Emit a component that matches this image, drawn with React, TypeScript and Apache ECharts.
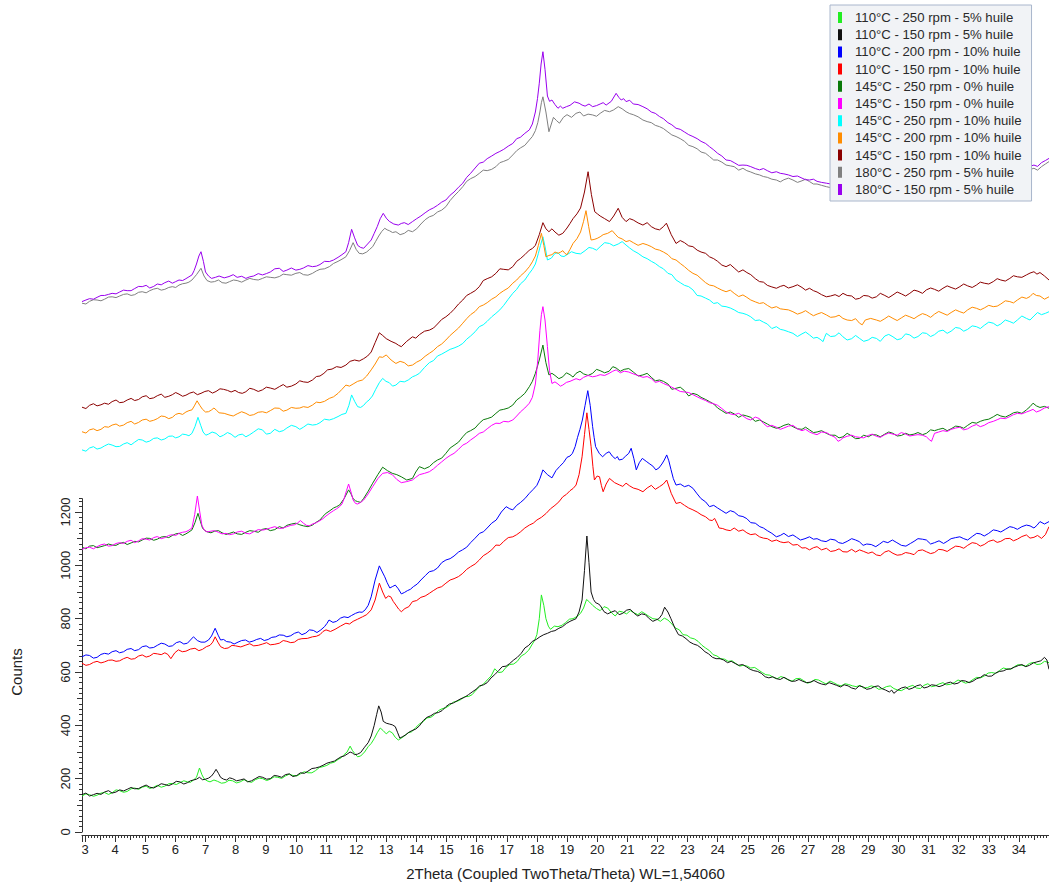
import React, { useEffect, useRef } from "react";
import * as echarts from "echarts";

const seriesNames = [
  "110°C - 250 rpm - 5% huile",
  "110°C - 150 rpm - 5% huile",
  "110°C - 200 rpm - 10% huile",
  "110°C - 150 rpm - 10% huile",
  "145°C - 250 rpm - 0% huile",
  "145°C - 150 rpm - 0% huile",
  "145°C - 250 rpm - 10% huile",
  "145°C - 200 rpm - 10% huile",
  "145°C - 150 rpm - 10% huile",
  "180°C - 250 rpm - 5% huile",
  "180°C - 150 rpm - 5% huile",
];

const seriesColors = [
  "#22ee22", "#111111", "#0000ff", "#ff0000", "#0a7a0a", "#ff00ff",
  "#00ffff", "#ff8c00", "#8b0000", "#808080", "#9900ee",
];

const s110_250_5 = [[2.9,135],[3.03,143],[3.15,140],[3.28,134],[3.4,138],[3.53,146],[3.65,148],[3.78,141],[3.9,147],[4.03,158],[4.15,155],[4.28,149],[4.4,152],[4.53,162],[4.65,165],[4.78,160],[4.9,168],[5.03,172],[5.15,163],[5.28,168],[5.4,175],[5.53,168],[5.65,172],[5.78,181],[5.9,182],[6.03,178],[6.15,185],[6.28,192],[6.4,188],[6.5,186],[6.6,195],[6.7,205],[6.8,240],[6.88,215],[6.95,200],[7.05,192],[7.15,188],[7.28,195],[7.4,190],[7.53,183],[7.65,185],[7.78,194],[7.9,192],[8.03,184],[8.15,188],[8.28,196],[8.4,190],[8.53,186],[8.65,196],[8.78,202],[8.9,200],[9.03,193],[9.15,198],[9.28,207],[9.4,205],[9.53,201],[9.65,210],[9.78,217],[9.9,212],[10.03,210],[10.15,218],[10.28,226],[10.4,222],[10.53,222],[10.65,230],[10.78,242],[10.9,245],[11.03,250],[11.15,258],[11.28,262],[11.4,272],[11.5,278],[11.6,290],[11.7,300],[11.8,322],[11.88,305],[11.95,295],[12.05,282],[12.15,285],[12.28,300],[12.4,320],[12.5,332],[12.6,350],[12.7,372],[12.8,390],[12.9,380],[13.0,368],[13.1,378],[13.2,372],[13.3,355],[13.4,345],[13.5,352],[13.6,360],[13.73,372],[13.85,376],[13.98,392],[14.1,405],[14.23,414],[14.35,428],[14.48,430],[14.6,440],[14.73,455],[14.85,462],[14.98,466],[15.1,475],[15.23,487],[15.35,490],[15.48,497],[15.6,508],[15.73,508],[15.85,515],[15.98,532],[16.1,545],[16.23,555],[16.35,570],[16.48,585],[16.6,612],[16.73,598],[16.85,600],[16.98,618],[17.1,628],[17.23,630],[17.35,640],[17.48,660],[17.6,668],[17.73,682],[17.85,705],[17.93,720],[18.0,740],[18.08,800],[18.15,889],[18.23,850],[18.3,800],[18.38,772],[18.45,760],[18.58,772],[18.7,770],[18.83,775],[18.95,785],[19.08,798],[19.2,800],[19.33,808],[19.45,820],[19.55,840],[19.65,872],[19.75,862],[19.85,850],[19.98,838],[20.1,830],[20.23,845],[20.35,840],[20.48,822],[20.6,810],[20.73,828],[20.85,825],[20.98,818],[21.1,830],[21.23,822],[21.35,815],[21.48,826],[21.6,818],[21.73,808],[21.85,800],[21.98,798],[22.1,790],[22.23,802],[22.35,795],[22.48,780],[22.6,765],[22.73,758],[22.85,740],[22.98,738],[23.1,728],[23.23,724],[23.35,715],[23.48,700],[23.6,690],[23.73,680],[23.85,665],[23.98,660],[24.1,650],[24.23,648],[24.35,640],[24.48,642],[24.6,632],[24.73,622],[24.85,625],[24.98,622],[25.1,615],[25.23,617],[25.35,608],[25.48,598],[25.6,590],[25.73,588],[25.85,580],[25.98,575],[26.1,583],[26.23,578],[26.35,570],[26.48,566],[26.6,575],[26.73,576],[26.85,568],[26.98,558],[27.1,562],[27.23,572],[27.35,570],[27.48,562],[27.6,555],[27.73,566],[27.85,560],[27.98,552],[28.1,548],[28.23,556],[28.35,553],[28.48,548],[28.6,545],[28.73,550],[28.85,540],[28.98,542],[29.1,548],[29.23,544],[29.35,535],[29.48,538],[29.6,545],[29.73,548],[29.85,538],[29.98,532],[30.1,530],[30.23,538],[30.35,545],[30.48,550],[30.6,540],[30.73,538],[30.85,550],[30.98,556],[31.1,545],[31.23,548],[31.35,555],[31.48,560],[31.6,552],[31.73,554],[31.85,560],[31.98,570],[32.1,565],[32.23,558],[32.35,562],[32.48,572],[32.6,580],[32.73,578],[32.85,585],[32.98,596],[33.1,598],[33.23,595],[33.35,605],[33.48,615],[33.6,612],[33.73,610],[33.85,620],[33.98,628],[34.1,625],[34.23,622],[34.35,632],[34.48,636],[34.6,628],[34.73,630],[34.85,640],[35.0,635]];

const s110_150_5 = [[2.9,140],[3.03,146],[3.15,135],[3.28,140],[3.4,145],[3.53,141],[3.65,150],[3.78,155],[3.9,146],[4.03,150],[4.15,158],[4.28,154],[4.4,160],[4.53,167],[4.65,162],[4.78,163],[4.9,170],[5.03,176],[5.15,168],[5.28,165],[5.4,172],[5.53,181],[5.65,178],[5.78,174],[5.9,180],[6.03,190],[6.15,188],[6.28,180],[6.4,185],[6.5,192],[6.6,195],[6.7,198],[6.8,205],[6.9,196],[7.0,198],[7.1,202],[7.2,210],[7.28,222],[7.35,235],[7.43,220],[7.5,205],[7.6,198],[7.7,195],[7.8,203],[7.9,200],[8.03,192],[8.15,195],[8.28,199],[8.4,188],[8.53,192],[8.65,200],[8.78,208],[8.9,205],[9.03,198],[9.15,200],[9.28,212],[9.4,210],[9.53,205],[9.65,215],[9.78,218],[9.9,208],[10.03,212],[10.15,222],[10.28,220],[10.4,228],[10.53,238],[10.65,240],[10.78,244],[10.9,250],[11.03,258],[11.15,262],[11.28,266],[11.4,275],[11.5,282],[11.6,285],[11.7,292],[11.8,300],[11.88,296],[11.95,290],[12.05,292],[12.15,298],[12.28,318],[12.4,335],[12.5,360],[12.6,400],[12.68,440],[12.75,473],[12.83,450],[12.9,415],[13.0,408],[13.1,405],[13.2,402],[13.3,395],[13.38,372],[13.45,352],[13.55,358],[13.65,365],[13.75,374],[13.85,380],[13.98,386],[14.1,398],[14.23,418],[14.35,430],[14.48,436],[14.6,445],[14.73,448],[14.85,455],[14.98,470],[15.1,480],[15.23,484],[15.35,492],[15.48,500],[15.6,505],[15.73,515],[15.85,525],[15.98,535],[16.1,548],[16.23,552],[16.35,560],[16.48,578],[16.6,590],[16.73,605],[16.85,620],[16.98,622],[17.1,632],[17.23,645],[17.35,655],[17.48,670],[17.6,690],[17.73,700],[17.85,715],[17.98,722],[18.1,732],[18.23,740],[18.35,745],[18.48,752],[18.6,755],[18.73,764],[18.85,770],[18.98,782],[19.1,790],[19.2,795],[19.3,800],[19.4,825],[19.5,870],[19.58,980],[19.66,1110],[19.73,1010],[19.8,900],[19.88,872],[19.95,860],[20.03,856],[20.1,850],[20.23,826],[20.35,818],[20.48,825],[20.6,830],[20.73,815],[20.85,820],[20.98,832],[21.1,835],[21.23,820],[21.35,810],[21.48,818],[21.6,815],[21.73,800],[21.85,790],[21.95,795],[22.05,800],[22.15,815],[22.24,843],[22.35,825],[22.45,800],[22.58,765],[22.7,740],[22.83,735],[22.95,725],[23.08,712],[23.2,705],[23.33,700],[23.45,690],[23.58,676],[23.7,668],[23.83,655],[23.95,650],[24.08,650],[24.2,645],[24.33,635],[24.45,640],[24.58,632],[24.7,625],[24.83,628],[24.95,620],[25.08,610],[25.2,605],[25.33,602],[25.45,595],[25.58,582],[25.7,578],[25.83,582],[25.95,575],[26.08,572],[26.2,580],[26.33,572],[26.45,565],[26.58,566],[26.7,572],[26.83,565],[26.95,560],[27.08,562],[27.2,568],[27.33,560],[27.45,555],[27.58,552],[27.7,560],[27.83,555],[27.95,550],[28.08,544],[28.2,552],[28.33,548],[28.45,540],[28.58,536],[28.7,548],[28.83,544],[28.95,535],[29.08,538],[29.2,545],[29.33,548],[29.45,538],[29.58,532],[29.7,525],[29.78,532],[29.85,520],[29.98,532],[30.1,540],[30.23,544],[30.35,535],[30.48,540],[30.6,548],[30.73,552],[30.85,540],[30.98,544],[31.1,552],[31.23,550],[31.35,545],[31.48,550],[31.6,558],[31.73,562],[31.85,555],[31.98,558],[32.1,568],[32.23,566],[32.35,560],[32.48,566],[32.6,575],[32.73,580],[32.85,590],[32.98,584],[33.1,585],[33.23,596],[33.35,602],[33.48,604],[33.6,610],[33.73,612],[33.85,618],[33.98,624],[34.1,628],[34.23,620],[34.35,625],[34.48,634],[34.6,638],[34.73,642],[34.85,655],[34.93,645],[35.0,610]];

const s110_200_10 = [[2.9,657],[3.03,664],[3.15,662],[3.28,652],[3.4,655],[3.53,666],[3.65,670],[3.78,667],[3.9,676],[4.03,680],[4.15,672],[4.28,676],[4.4,685],[4.53,688],[4.65,680],[4.78,684],[4.9,695],[5.03,698],[5.15,690],[5.28,692],[5.4,700],[5.53,708],[5.65,705],[5.78,696],[5.9,698],[6.03,710],[6.15,714],[6.28,705],[6.4,708],[6.5,720],[6.6,732],[6.73,718],[6.85,712],[6.98,712],[7.1,720],[7.2,735],[7.32,764],[7.42,738],[7.5,720],[7.6,722],[7.7,714],[7.83,712],[7.95,705],[8.08,712],[8.2,718],[8.33,720],[8.45,712],[8.58,716],[8.7,722],[8.83,726],[8.95,718],[9.08,722],[9.2,730],[9.33,732],[9.45,739],[9.58,738],[9.7,732],[9.83,736],[9.95,745],[10.08,750],[10.2,740],[10.33,746],[10.45,758],[10.58,756],[10.7,748],[10.83,758],[10.95,770],[11.03,782],[11.1,795],[11.23,786],[11.35,790],[11.48,802],[11.6,807],[11.73,804],[11.85,812],[11.98,820],[12.1,825],[12.2,824],[12.3,833],[12.4,850],[12.5,882],[12.63,945],[12.77,998],[12.87,975],[12.95,957],[13.03,935],[13.12,915],[13.2,920],[13.3,926],[13.4,912],[13.5,893],[13.6,898],[13.7,905],[13.8,910],[13.9,920],[14.03,930],[14.15,945],[14.3,962],[14.43,976],[14.57,980],[14.7,990],[14.84,1010],[14.98,1020],[15.12,1025],[15.25,1035],[15.4,1050],[15.53,1058],[15.67,1068],[15.8,1085],[15.95,1102],[16.1,1120],[16.23,1126],[16.35,1140],[16.5,1158],[16.65,1170],[16.82,1200],[16.98,1220],[17.1,1212],[17.2,1208],[17.33,1225],[17.45,1235],[17.6,1250],[17.75,1270],[17.88,1285],[18.0,1300],[18.1,1325],[18.2,1358],[18.35,1340],[18.5,1328],[18.63,1355],[18.75,1370],[18.88,1385],[19.0,1405],[19.1,1410],[19.18,1420],[19.27,1445],[19.35,1480],[19.43,1510],[19.51,1545],[19.6,1600],[19.69,1655],[19.77,1600],[19.85,1520],[19.9,1480],[19.95,1445],[20.07,1420],[20.18,1407],[20.3,1420],[20.4,1426],[20.5,1410],[20.6,1400],[20.67,1408],[20.73,1395],[20.84,1398],[20.95,1410],[21.05,1420],[21.13,1439],[21.22,1400],[21.3,1358],[21.4,1385],[21.5,1401],[21.63,1390],[21.75,1380],[21.85,1372],[21.95,1358],[22.05,1365],[22.15,1380],[22.23,1395],[22.31,1414],[22.38,1392],[22.45,1360],[22.53,1325],[22.62,1301],[22.76,1305],[22.9,1295],[23.04,1300],[23.18,1289],[23.32,1268],[23.45,1250],[23.6,1238],[23.73,1220],[23.87,1225],[24.0,1215],[24.14,1205],[24.28,1195],[24.42,1205],[24.55,1200],[24.7,1186],[24.84,1183],[24.97,1175],[25.1,1160],[25.25,1158],[25.4,1145],[25.52,1140],[25.65,1130],[25.8,1120],[25.95,1107],[26.08,1112],[26.2,1120],[26.35,1108],[26.5,1114],[26.62,1105],[26.75,1095],[26.9,1100],[27.05,1107],[27.18,1098],[27.3,1100],[27.45,1092],[27.6,1089],[27.75,1098],[27.9,1095],[28.02,1085],[28.15,1082],[28.3,1090],[28.45,1100],[28.58,1095],[28.7,1089],[28.83,1075],[28.95,1080],[29.1,1078],[29.25,1070],[29.38,1080],[29.5,1090],[29.65,1085],[29.8,1095],[29.95,1085],[30.1,1075],[30.25,1072],[30.4,1082],[30.52,1090],[30.65,1100],[30.8,1098],[30.93,1095],[31.07,1080],[31.2,1085],[31.35,1092],[31.5,1082],[31.62,1090],[31.75,1100],[31.9,1104],[32.04,1107],[32.17,1100],[32.3,1095],[32.45,1108],[32.6,1120],[32.72,1118],[32.85,1110],[33.0,1120],[33.15,1133],[33.28,1130],[33.4,1125],[33.55,1135],[33.7,1145],[33.82,1142],[33.95,1135],[34.1,1145],[34.25,1151],[34.37,1148],[34.5,1140],[34.6,1150],[34.7,1164],[34.85,1155],[35.0,1164]];

const s110_150_10 = [[2.9,633],[3.03,625],[3.15,628],[3.28,636],[3.4,640],[3.53,634],[3.65,638],[3.78,644],[3.9,645],[4.03,640],[4.15,642],[4.28,650],[4.4,655],[4.53,648],[4.65,650],[4.78,660],[4.9,664],[5.03,656],[5.15,660],[5.28,670],[5.4,668],[5.53,665],[5.65,672],[5.75,666],[5.85,650],[5.98,672],[6.1,683],[6.23,676],[6.35,678],[6.5,686],[6.65,689],[6.78,680],[6.9,685],[7.03,695],[7.15,700],[7.24,712],[7.32,732],[7.41,712],[7.5,695],[7.63,688],[7.75,690],[7.88,700],[8.0,698],[8.17,694],[8.34,701],[8.47,706],[8.6,698],[8.75,700],[8.9,705],[9.03,710],[9.15,702],[9.3,704],[9.45,708],[9.58,718],[9.7,715],[9.83,710],[9.95,712],[10.08,722],[10.2,725],[10.38,726],[10.55,732],[10.68,734],[10.8,740],[10.9,752],[11.0,758],[11.15,752],[11.3,760],[11.48,772],[11.66,783],[11.78,780],[11.9,790],[12.05,798],[12.21,807],[12.35,815],[12.5,833],[12.63,870],[12.77,933],[12.88,900],[12.98,876],[13.07,885],[13.15,882],[13.23,865],[13.32,851],[13.41,836],[13.5,826],[13.62,838],[13.75,845],[13.87,864],[14.01,868],[14.15,880],[14.29,885],[14.43,895],[14.56,905],[14.7,915],[14.84,920],[14.98,933],[15.12,945],[15.25,950],[15.4,958],[15.54,970],[15.67,985],[15.8,995],[15.95,1005],[16.09,1020],[16.22,1036],[16.35,1045],[16.5,1058],[16.64,1076],[16.77,1075],[16.9,1090],[17.05,1104],[17.2,1107],[17.33,1115],[17.45,1125],[17.6,1140],[17.75,1151],[17.88,1158],[18.0,1170],[18.15,1180],[18.31,1195],[18.45,1212],[18.6,1225],[18.73,1238],[18.86,1257],[18.98,1266],[19.1,1280],[19.2,1288],[19.3,1301],[19.4,1340],[19.5,1407],[19.58,1490],[19.66,1572],[19.73,1510],[19.8,1445],[19.86,1370],[19.91,1320],[20.0,1335],[20.08,1332],[20.14,1300],[20.2,1276],[20.3,1305],[20.41,1326],[20.58,1310],[20.75,1301],[20.85,1296],[20.96,1308],[21.08,1298],[21.2,1290],[21.36,1285],[21.52,1276],[21.66,1290],[21.8,1300],[21.93,1285],[22.07,1295],[22.2,1305],[22.31,1320],[22.46,1270],[22.62,1232],[22.76,1236],[22.9,1225],[23.04,1215],[23.18,1208],[23.32,1200],[23.45,1190],[23.6,1182],[23.73,1170],[23.82,1168],[23.9,1176],[23.98,1158],[24.05,1140],[24.17,1138],[24.28,1133],[24.42,1130],[24.55,1140],[24.7,1128],[24.84,1133],[24.97,1122],[25.1,1115],[25.25,1118],[25.39,1107],[25.52,1102],[25.65,1100],[25.8,1090],[25.95,1095],[26.08,1088],[26.2,1085],[26.35,1088],[26.5,1076],[26.65,1078],[26.8,1065],[26.92,1066],[27.05,1058],[27.18,1066],[27.3,1070],[27.45,1058],[27.61,1064],[27.75,1052],[27.9,1055],[28.03,1062],[28.16,1051],[28.3,1050],[28.45,1060],[28.58,1050],[28.71,1058],[28.85,1052],[29.0,1045],[29.13,1050],[29.27,1039],[29.4,1036],[29.55,1050],[29.68,1055],[29.82,1045],[29.96,1038],[30.1,1040],[30.24,1048],[30.38,1045],[30.52,1040],[30.65,1055],[30.8,1058],[30.93,1051],[31.07,1044],[31.2,1048],[31.34,1060],[31.48,1058],[31.62,1052],[31.75,1062],[31.9,1072],[32.04,1070],[32.17,1064],[32.3,1075],[32.45,1085],[32.59,1082],[32.72,1072],[32.85,1078],[33.0,1090],[33.15,1095],[33.28,1086],[33.4,1090],[33.55,1100],[33.7,1101],[33.82,1092],[33.95,1098],[34.1,1108],[34.25,1114],[34.37,1102],[34.5,1105],[34.62,1112],[34.75,1101],[34.88,1115],[35.0,1145]];

const s145_250_0 = [[2.9,1068],[3.03,1062],[3.15,1072],[3.28,1074],[3.4,1066],[3.53,1070],[3.65,1074],[3.78,1080],[3.9,1076],[4.03,1075],[4.15,1082],[4.28,1086],[4.4,1078],[4.53,1084],[4.65,1090],[4.78,1088],[4.9,1095],[5.03,1102],[5.15,1101],[5.28,1094],[5.4,1098],[5.53,1106],[5.65,1108],[5.78,1104],[5.9,1112],[6.01,1118],[6.12,1120],[6.24,1112],[6.35,1118],[6.45,1125],[6.55,1133],[6.65,1160],[6.75,1195],[6.83,1165],[6.9,1140],[6.98,1130],[7.05,1126],[7.18,1122],[7.3,1128],[7.43,1130],[7.55,1122],[7.68,1116],[7.8,1120],[7.93,1125],[8.05,1118],[8.2,1116],[8.34,1124],[8.47,1130],[8.6,1128],[8.75,1124],[8.89,1135],[9.02,1138],[9.15,1130],[9.3,1134],[9.45,1145],[9.58,1140],[9.7,1150],[9.85,1155],[10.0,1158],[10.13,1152],[10.25,1148],[10.4,1145],[10.55,1151],[10.68,1162],[10.8,1170],[10.9,1184],[11.0,1195],[11.13,1205],[11.25,1215],[11.35,1220],[11.45,1226],[11.6,1250],[11.75,1283],[11.83,1268],[11.9,1250],[11.98,1242],[12.05,1239],[12.15,1236],[12.25,1251],[12.4,1278],[12.55,1308],[12.72,1340],[12.88,1368],[13.04,1355],[13.2,1345],[13.35,1340],[13.5,1332],[13.68,1320],[13.87,1326],[13.98,1350],[14.1,1370],[14.27,1362],[14.43,1370],[14.57,1385],[14.7,1395],[14.84,1402],[14.98,1420],[15.12,1440],[15.25,1450],[15.4,1462],[15.54,1482],[15.67,1498],[15.8,1505],[15.95,1515],[16.09,1533],[16.22,1546],[16.35,1550],[16.5,1556],[16.64,1570],[16.77,1582],[16.9,1585],[17.05,1590],[17.2,1601],[17.33,1620],[17.45,1630],[17.6,1645],[17.75,1670],[17.85,1690],[17.95,1720],[18.08,1770],[18.2,1826],[18.3,1760],[18.4,1714],[18.5,1720],[18.6,1712],[18.73,1700],[18.86,1707],[18.98,1722],[19.1,1715],[19.2,1706],[19.3,1720],[19.43,1728],[19.55,1718],[19.7,1712],[19.85,1720],[19.98,1735],[20.1,1730],[20.25,1722],[20.4,1728],[20.52,1745],[20.63,1740],[20.77,1728],[20.9,1735],[21.05,1738],[21.2,1725],[21.36,1710],[21.52,1714],[21.66,1720],[21.8,1705],[21.93,1692],[22.07,1695],[22.2,1690],[22.35,1680],[22.48,1660],[22.62,1664],[22.76,1668],[22.9,1655],[23.04,1635],[23.18,1645],[23.32,1640],[23.45,1630],[23.6,1622],[23.73,1614],[23.87,1605],[24.0,1590],[24.14,1580],[24.28,1570],[24.42,1575],[24.55,1568],[24.7,1555],[24.84,1564],[24.97,1560],[25.1,1555],[25.25,1540],[25.39,1545],[25.52,1538],[25.65,1530],[25.8,1520],[25.95,1514],[26.08,1518],[26.2,1525],[26.35,1530],[26.5,1520],[26.65,1512],[26.8,1510],[26.92,1518],[27.05,1508],[27.18,1498],[27.3,1500],[27.45,1505],[27.61,1495],[27.75,1488],[27.9,1488],[28.03,1478],[28.16,1482],[28.3,1495],[28.45,1485],[28.58,1475],[28.71,1476],[28.85,1488],[29.0,1482],[29.13,1490],[29.27,1489],[29.4,1482],[29.55,1492],[29.68,1500],[29.82,1495],[29.96,1485],[30.1,1487],[30.24,1495],[30.38,1489],[30.52,1492],[30.65,1498],[30.8,1490],[30.93,1495],[31.07,1508],[31.2,1505],[31.34,1510],[31.48,1514],[31.62,1505],[31.75,1512],[31.9,1522],[32.04,1520],[32.17,1514],[32.3,1525],[32.45,1536],[32.59,1533],[32.72,1540],[32.85,1545],[33.0,1548],[33.15,1557],[33.28,1566],[33.4,1560],[33.55,1556],[33.7,1564],[33.82,1572],[33.95,1575],[34.1,1570],[34.25,1583],[34.37,1595],[34.47,1608],[34.58,1598],[34.7,1592],[34.85,1596],[35.0,1589]];

const s145_150_0 = [[2.9,1060],[3.03,1066],[3.15,1068],[3.28,1062],[3.4,1070],[3.53,1077],[3.65,1080],[3.78,1072],[3.9,1074],[4.03,1082],[4.15,1085],[4.28,1082],[4.4,1090],[4.53,1094],[4.65,1085],[4.78,1092],[4.9,1100],[5.03,1098],[5.15,1095],[5.28,1104],[5.4,1108],[5.53,1100],[5.65,1104],[5.78,1112],[5.9,1115],[6.01,1112],[6.12,1120],[6.24,1124],[6.35,1126],[6.45,1132],[6.55,1140],[6.64,1190],[6.73,1260],[6.81,1200],[6.88,1150],[6.96,1132],[7.05,1125],[7.18,1128],[7.3,1130],[7.43,1124],[7.55,1118],[7.68,1120],[7.8,1115],[7.93,1118],[8.05,1125],[8.2,1128],[8.34,1120],[8.47,1118],[8.6,1126],[8.75,1134],[8.89,1132],[9.02,1135],[9.15,1140],[9.3,1145],[9.45,1138],[9.58,1140],[9.7,1145],[9.83,1150],[9.95,1152],[10.05,1158],[10.15,1168],[10.25,1158],[10.35,1150],[10.45,1148],[10.55,1155],[10.68,1160],[10.8,1168],[10.9,1175],[11.0,1185],[11.13,1196],[11.25,1205],[11.35,1212],[11.45,1220],[11.53,1230],[11.6,1250],[11.68,1280],[11.75,1305],[11.83,1275],[11.9,1245],[11.98,1232],[12.05,1230],[12.15,1236],[12.25,1245],[12.4,1268],[12.55,1295],[12.72,1325],[12.88,1345],[13.04,1348],[13.2,1340],[13.35,1322],[13.5,1310],[13.68,1314],[13.87,1320],[13.98,1330],[14.1,1340],[14.27,1345],[14.43,1351],[14.57,1362],[14.7,1375],[14.84,1388],[14.98,1401],[15.12,1412],[15.25,1420],[15.4,1435],[15.54,1451],[15.67,1458],[15.8,1470],[15.95,1482],[16.09,1495],[16.22,1500],[16.35,1512],[16.5,1525],[16.64,1533],[16.77,1532],[16.9,1540],[17.05,1538],[17.2,1545],[17.33,1560],[17.45,1575],[17.6,1590],[17.75,1608],[17.85,1630],[17.95,1680],[18.03,1770],[18.1,1880],[18.15,1940],[18.2,1970],[18.27,1920],[18.35,1820],[18.42,1730],[18.5,1682],[18.6,1688],[18.7,1680],[18.78,1672],[18.86,1676],[18.98,1686],[19.1,1690],[19.2,1695],[19.3,1700],[19.43,1695],[19.55,1705],[19.7,1712],[19.85,1707],[19.98,1710],[20.1,1715],[20.25,1712],[20.4,1720],[20.52,1728],[20.63,1733],[20.77,1722],[20.9,1728],[21.05,1725],[21.2,1718],[21.36,1712],[21.52,1705],[21.66,1708],[21.8,1700],[21.93,1686],[22.07,1690],[22.2,1682],[22.35,1675],[22.48,1668],[22.62,1660],[22.76,1652],[22.9,1650],[23.04,1648],[23.18,1640],[23.32,1632],[23.45,1625],[23.6,1618],[23.73,1610],[23.87,1606],[24.0,1600],[24.14,1588],[24.28,1575],[24.42,1568],[24.55,1565],[24.7,1570],[24.84,1560],[24.97,1550],[25.1,1545],[25.25,1556],[25.39,1550],[25.52,1532],[25.65,1520],[25.8,1525],[25.95,1518],[26.08,1510],[26.2,1515],[26.35,1522],[26.5,1525],[26.65,1512],[26.8,1505],[26.92,1510],[27.05,1500],[27.18,1494],[27.3,1490],[27.45,1500],[27.61,1498],[27.75,1488],[27.9,1480],[27.95,1472],[28.0,1465],[28.08,1470],[28.16,1478],[28.3,1484],[28.45,1488],[28.58,1482],[28.71,1480],[28.85,1478],[29.0,1487],[29.13,1492],[29.27,1484],[29.4,1480],[29.55,1490],[29.68,1496],[29.82,1492],[29.96,1488],[30.1,1498],[30.24,1492],[30.38,1485],[30.52,1488],[30.65,1490],[30.8,1488],[30.93,1482],[31.02,1472],[31.1,1465],[31.15,1480],[31.2,1495],[31.34,1500],[31.48,1505],[31.62,1502],[31.75,1510],[31.9,1515],[32.04,1518],[32.17,1508],[32.3,1512],[32.45,1522],[32.59,1528],[32.72,1520],[32.85,1525],[33.0,1535],[33.15,1540],[33.28,1546],[33.4,1552],[33.55,1550],[33.7,1558],[33.82,1565],[33.95,1570],[34.1,1568],[34.25,1575],[34.37,1580],[34.47,1585],[34.58,1575],[34.7,1580],[34.85,1590],[35.0,1595]];

const s145_250_10 = [[2.9,1433],[3.03,1428],[3.15,1440],[3.28,1445],[3.4,1436],[3.53,1440],[3.65,1448],[3.78,1455],[3.9,1451],[4.03,1445],[4.15,1446],[4.28,1455],[4.4,1460],[4.53,1452],[4.65,1462],[4.78,1472],[4.9,1470],[5.03,1462],[5.15,1466],[5.28,1476],[5.4,1478],[5.53,1470],[5.65,1474],[5.78,1484],[5.9,1485],[6.01,1478],[6.12,1482],[6.24,1492],[6.35,1490],[6.45,1486],[6.55,1495],[6.65,1520],[6.75,1555],[6.84,1525],[6.92,1500],[7.01,1488],[7.1,1492],[7.22,1500],[7.35,1495],[7.48,1482],[7.6,1488],[7.73,1498],[7.85,1492],[7.98,1480],[8.1,1489],[8.22,1492],[8.34,1482],[8.47,1490],[8.6,1500],[8.75,1512],[8.89,1508],[9.02,1492],[9.15,1495],[9.3,1510],[9.45,1501],[9.58,1505],[9.7,1515],[9.85,1525],[10.0,1520],[10.13,1510],[10.25,1518],[10.4,1530],[10.55,1526],[10.68,1528],[10.8,1535],[10.95,1548],[11.11,1545],[11.25,1550],[11.4,1558],[11.53,1566],[11.66,1570],[11.76,1600],[11.85,1639],[11.95,1615],[12.05,1595],[12.15,1592],[12.25,1600],[12.34,1612],[12.43,1620],[12.54,1635],[12.65,1660],[12.77,1685],[12.88,1701],[12.99,1690],[13.1,1685],[13.21,1672],[13.32,1676],[13.46,1690],[13.6,1688],[13.73,1695],[13.87,1707],[13.98,1712],[14.1,1720],[14.27,1742],[14.43,1760],[14.57,1768],[14.7,1785],[14.84,1792],[14.98,1801],[15.12,1810],[15.25,1815],[15.4,1822],[15.54,1832],[15.67,1848],[15.8,1860],[15.95,1876],[16.09,1895],[16.22,1902],[16.35,1915],[16.5,1932],[16.64,1945],[16.77,1958],[16.9,1975],[17.05,1998],[17.2,2020],[17.33,2035],[17.45,2055],[17.6,2070],[17.75,2095],[17.85,2110],[17.95,2130],[18.05,2170],[18.12,2200],[18.2,2232],[18.28,2190],[18.35,2145],[18.48,2152],[18.6,2170],[18.7,2172],[18.8,2160],[18.9,2158],[19.0,2165],[19.15,2176],[19.3,2170],[19.45,2168],[19.6,2180],[19.73,2192],[19.85,2189],[19.98,2182],[20.1,2195],[20.25,2210],[20.41,2207],[20.55,2198],[20.7,2205],[20.83,2214],[20.96,2201],[21.08,2190],[21.2,2180],[21.36,2170],[21.52,2157],[21.66,2150],[21.8,2140],[21.93,2132],[22.07,2120],[22.2,2112],[22.35,2095],[22.48,2090],[22.62,2070],[22.76,2060],[22.9,2050],[23.04,2045],[23.18,2033],[23.32,2012],[23.45,2010],[23.6,2002],[23.73,1995],[23.87,1982],[24.0,1985],[24.14,1972],[24.28,1970],[24.42,1965],[24.55,1958],[24.7,1948],[24.84,1945],[24.97,1940],[25.1,1932],[25.25,1918],[25.39,1920],[25.52,1912],[25.65,1905],[25.8,1888],[25.95,1895],[26.08,1885],[26.2,1882],[26.35,1876],[26.5,1870],[26.65,1858],[26.8,1868],[26.92,1875],[27.05,1864],[27.18,1852],[27.3,1855],[27.4,1848],[27.5,1839],[27.55,1855],[27.61,1870],[27.75,1858],[27.9,1860],[28.03,1872],[28.16,1857],[28.3,1845],[28.45,1850],[28.58,1862],[28.71,1851],[28.85,1840],[29.0,1845],[29.13,1855],[29.27,1851],[29.4,1840],[29.55,1860],[29.68,1866],[29.82,1857],[29.96,1846],[30.1,1850],[30.24,1868],[30.38,1864],[30.52,1852],[30.65,1858],[30.8,1872],[30.93,1870],[31.07,1858],[31.2,1865],[31.34,1878],[31.48,1882],[31.62,1870],[31.75,1878],[31.9,1892],[32.04,1889],[32.17,1878],[32.3,1885],[32.45,1898],[32.59,1895],[32.72,1888],[32.85,1900],[33.0,1912],[33.15,1908],[33.28,1898],[33.4,1905],[33.55,1920],[33.7,1914],[33.82,1908],[33.95,1920],[34.1,1935],[34.25,1926],[34.37,1920],[34.5,1935],[34.62,1948],[34.75,1940],[34.88,1945],[35.0,1951]];

const s145_200_10 = [[2.9,1501],[3.03,1496],[3.15,1508],[3.28,1512],[3.4,1505],[3.53,1510],[3.65,1520],[3.78,1518],[3.9,1526],[4.03,1530],[4.15,1522],[4.28,1526],[4.4,1535],[4.53,1540],[4.65,1530],[4.78,1536],[4.9,1545],[5.03,1548],[5.15,1540],[5.28,1544],[5.4,1550],[5.53,1560],[5.65,1558],[5.78,1550],[5.9,1555],[6.01,1566],[6.12,1570],[6.24,1566],[6.35,1575],[6.45,1580],[6.55,1583],[6.63,1598],[6.72,1617],[6.81,1600],[6.9,1585],[7.0,1575],[7.1,1576],[7.19,1582],[7.28,1590],[7.36,1582],[7.45,1572],[7.62,1570],[7.78,1564],[7.92,1560],[8.05,1568],[8.2,1576],[8.34,1570],[8.47,1562],[8.6,1565],[8.75,1574],[8.89,1576],[9.02,1572],[9.15,1580],[9.3,1590],[9.45,1589],[9.58,1578],[9.7,1582],[9.85,1592],[10.0,1589],[10.13,1590],[10.25,1595],[10.4,1592],[10.55,1601],[10.68,1612],[10.8,1610],[10.95,1615],[11.11,1626],[11.25,1632],[11.4,1645],[11.53,1660],[11.66,1676],[11.78,1672],[11.9,1680],[12.05,1690],[12.21,1695],[12.35,1710],[12.5,1733],[12.63,1755],[12.77,1782],[12.88,1780],[13.0,1789],[13.16,1770],[13.32,1757],[13.46,1765],[13.6,1760],[13.73,1748],[13.87,1751],[14.01,1762],[14.15,1770],[14.29,1784],[14.43,1795],[14.56,1805],[14.7,1820],[14.84,1830],[14.98,1845],[15.12,1862],[15.25,1875],[15.4,1890],[15.54,1908],[15.67,1925],[15.8,1940],[15.95,1952],[16.09,1970],[16.22,1976],[16.35,1985],[16.5,1998],[16.64,2007],[16.77,2020],[16.9,2030],[17.05,2040],[17.2,2058],[17.33,2070],[17.45,2085],[17.6,2100],[17.75,2120],[17.85,2138],[17.95,2160],[18.05,2200],[18.15,2245],[18.23,2200],[18.3,2157],[18.4,2162],[18.5,2165],[18.6,2175],[18.7,2170],[18.78,2174],[18.86,2180],[18.93,2170],[19.0,2165],[19.1,2185],[19.2,2207],[19.33,2225],[19.45,2250],[19.55,2290],[19.63,2330],[19.72,2270],[19.8,2220],[19.9,2222],[20.0,2226],[20.1,2232],[20.2,2240],[20.35,2245],[20.5,2255],[20.6,2242],[20.7,2230],[20.83,2224],[20.96,2214],[21.08,2218],[21.2,2210],[21.36,2200],[21.52,2207],[21.66,2202],[21.8,2195],[21.93,2186],[22.07,2182],[22.2,2175],[22.35,2165],[22.48,2150],[22.62,2145],[22.76,2132],[22.9,2120],[23.04,2106],[23.18,2095],[23.32,2088],[23.45,2075],[23.6,2060],[23.73,2051],[23.87,2048],[24.0,2040],[24.14,2032],[24.28,2026],[24.42,2032],[24.55,2020],[24.7,2008],[24.84,2014],[24.97,2005],[25.1,1995],[25.25,1988],[25.39,1982],[25.52,1985],[25.65,1975],[25.8,1965],[25.95,1970],[26.08,1962],[26.2,1960],[26.35,1958],[26.5,1951],[26.65,1942],[26.8,1948],[26.92,1955],[27.05,1945],[27.18,1936],[27.3,1942],[27.45,1948],[27.61,1939],[27.75,1930],[27.9,1932],[28.03,1938],[28.16,1926],[28.3,1920],[28.45,1918],[28.58,1925],[28.71,1908],[28.8,1902],[28.9,1920],[29.08,1926],[29.27,1920],[29.4,1915],[29.55,1925],[29.68,1935],[29.82,1926],[29.96,1918],[30.1,1928],[30.24,1938],[30.38,1932],[30.52,1925],[30.65,1935],[30.8,1944],[30.93,1939],[31.07,1930],[31.2,1942],[31.34,1952],[31.48,1945],[31.62,1938],[31.75,1948],[31.9,1958],[32.04,1951],[32.17,1946],[32.3,1958],[32.45,1968],[32.59,1964],[32.72,1958],[32.85,1965],[33.0,1975],[33.15,1970],[33.28,1972],[33.4,1980],[33.55,1992],[33.7,1989],[33.82,1984],[33.95,1995],[34.1,2006],[34.25,2001],[34.37,2008],[34.47,2020],[34.58,2012],[34.7,2010],[34.85,1998],[35.0,2007]];

const s145_150_10 = [[2.9,1593],[3.03,1588],[3.15,1600],[3.28,1606],[3.4,1598],[3.53,1602],[3.65,1608],[3.78,1604],[3.9,1614],[4.03,1620],[4.15,1610],[4.28,1612],[4.4,1620],[4.53,1626],[4.65,1618],[4.78,1622],[4.9,1632],[5.03,1636],[5.15,1625],[5.28,1628],[5.4,1636],[5.53,1642],[5.65,1630],[5.78,1634],[5.9,1640],[6.01,1648],[6.12,1642],[6.24,1634],[6.35,1638],[6.48,1646],[6.6,1650],[6.73,1640],[6.85,1645],[6.98,1652],[7.1,1655],[7.23,1646],[7.35,1652],[7.48,1662],[7.6,1660],[7.73,1656],[7.85,1650],[7.98,1656],[8.1,1648],[8.22,1645],[8.34,1651],[8.47,1664],[8.6,1660],[8.75,1652],[8.89,1658],[9.02,1668],[9.15,1665],[9.3,1660],[9.45,1670],[9.58,1678],[9.7,1668],[9.85,1672],[10.0,1680],[10.13,1692],[10.25,1688],[10.4,1686],[10.55,1695],[10.68,1708],[10.8,1710],[10.93,1720],[11.05,1733],[11.2,1736],[11.35,1745],[11.5,1742],[11.66,1751],[11.8,1765],[11.95,1770],[12.1,1766],[12.25,1775],[12.38,1785],[12.5,1800],[12.63,1835],[12.77,1872],[12.88,1862],[13.0,1850],[13.16,1840],[13.32,1832],[13.41,1825],[13.5,1820],[13.68,1840],[13.87,1857],[13.98,1852],[14.1,1865],[14.27,1878],[14.43,1882],[14.57,1890],[14.7,1905],[14.84,1922],[14.98,1932],[15.12,1945],[15.25,1960],[15.4,1980],[15.54,1995],[15.67,2012],[15.8,2020],[15.95,2030],[16.09,2045],[16.22,2068],[16.35,2075],[16.5,2082],[16.64,2095],[16.77,2112],[16.9,2110],[17.05,2108],[17.2,2120],[17.33,2140],[17.45,2150],[17.6,2165],[17.75,2182],[17.85,2188],[17.95,2200],[18.08,2240],[18.2,2285],[18.3,2262],[18.4,2251],[18.5,2262],[18.6,2250],[18.73,2238],[18.86,2245],[18.93,2255],[19.0,2265],[19.1,2282],[19.2,2300],[19.33,2318],[19.45,2340],[19.58,2400],[19.7,2476],[19.81,2390],[19.92,2326],[20.01,2318],[20.1,2310],[20.25,2300],[20.41,2289],[20.55,2310],[20.7,2339],[20.83,2305],[20.96,2289],[21.08,2300],[21.2,2295],[21.36,2284],[21.52,2276],[21.66,2285],[21.8,2270],[21.93,2262],[22.07,2258],[22.2,2270],[22.3,2283],[22.46,2240],[22.62,2207],[22.76,2218],[22.9,2210],[23.04,2198],[23.18,2195],[23.32,2182],[23.45,2175],[23.6,2170],[23.73,2157],[23.87,2150],[24.0,2140],[24.14,2126],[24.28,2120],[24.42,2128],[24.55,2115],[24.7,2100],[24.84,2108],[24.97,2098],[25.1,2090],[25.25,2075],[25.39,2064],[25.52,2062],[25.65,2050],[25.8,2044],[25.95,2039],[26.08,2046],[26.2,2050],[26.35,2040],[26.5,2045],[26.65,2052],[26.8,2042],[26.92,2032],[27.05,2039],[27.18,2030],[27.3,2025],[27.45,2015],[27.61,2007],[27.75,2010],[27.9,2015],[28.03,2008],[28.16,2020],[28.3,2012],[28.45,2010],[28.58,1998],[28.71,2001],[28.85,2012],[29.0,2010],[29.13,2002],[29.27,2007],[29.4,2020],[29.55,2012],[29.68,2004],[29.82,2014],[29.96,2025],[30.1,2018],[30.24,2010],[30.38,2020],[30.52,2032],[30.65,2028],[30.8,2020],[30.93,2033],[31.07,2040],[31.2,2035],[31.34,2028],[31.48,2039],[31.62,2048],[31.75,2042],[31.9,2036],[32.04,2045],[32.17,2055],[32.3,2048],[32.45,2042],[32.59,2051],[32.72,2062],[32.85,2058],[33.0,2055],[33.15,2064],[33.28,2075],[33.4,2070],[33.55,2066],[33.7,2076],[33.82,2086],[33.95,2082],[34.1,2080],[34.25,2089],[34.37,2096],[34.5,2101],[34.6,2092],[34.7,2098],[34.85,2085],[35.0,2070]];

const s180_250_5 = [[2.9,1983],[3.03,1980],[3.15,1990],[3.28,1996],[3.4,1995],[3.53,1992],[3.65,1998],[3.78,2006],[3.9,2007],[4.03,2004],[4.15,2010],[4.28,2016],[4.4,2018],[4.53,2012],[4.65,2015],[4.78,2024],[4.9,2026],[5.03,2022],[5.15,2030],[5.28,2036],[5.4,2039],[5.53,2032],[5.65,2035],[5.78,2042],[5.9,2045],[6.01,2042],[6.12,2051],[6.24,2056],[6.35,2058],[6.45,2062],[6.55,2070],[6.7,2090],[6.85,2114],[6.95,2085],[7.05,2068],[7.18,2062],[7.3,2064],[7.43,2070],[7.55,2060],[7.68,2058],[7.8,2064],[7.93,2070],[8.05,2068],[8.2,2062],[8.34,2070],[8.47,2076],[8.6,2072],[8.75,2070],[8.89,2076],[9.02,2082],[9.15,2080],[9.3,2078],[9.45,2083],[9.58,2092],[9.7,2090],[9.85,2088],[10.0,2095],[10.13,2098],[10.25,2090],[10.4,2088],[10.55,2095],[10.68,2104],[10.8,2110],[10.95,2112],[11.11,2120],[11.25,2132],[11.4,2140],[11.53,2148],[11.66,2157],[11.78,2180],[11.9,2210],[12.0,2185],[12.1,2170],[12.22,2168],[12.35,2175],[12.45,2185],[12.55,2195],[12.65,2215],[12.75,2235],[12.85,2252],[12.95,2264],[13.03,2258],[13.1,2255],[13.21,2248],[13.32,2251],[13.46,2240],[13.6,2245],[13.73,2256],[13.87,2251],[14.01,2262],[14.15,2280],[14.29,2296],[14.43,2307],[14.56,2312],[14.7,2325],[14.84,2332],[14.98,2345],[15.12,2368],[15.25,2385],[15.4,2402],[15.54,2420],[15.67,2440],[15.8,2450],[15.95,2458],[16.09,2470],[16.22,2482],[16.35,2480],[16.5,2485],[16.64,2495],[16.77,2510],[16.9,2515],[17.05,2522],[17.2,2539],[17.33,2555],[17.45,2565],[17.6,2575],[17.75,2595],[17.85,2608],[17.95,2630],[18.03,2660],[18.1,2700],[18.15,2735],[18.2,2757],[18.3,2700],[18.4,2626],[18.48,2655],[18.55,2680],[18.65,2668],[18.75,2658],[18.88,2680],[19.0,2690],[19.15,2680],[19.3,2695],[19.43,2700],[19.55,2685],[19.7,2692],[19.85,2689],[19.98,2684],[20.1,2695],[20.25,2706],[20.41,2701],[20.55,2708],[20.7,2720],[20.83,2712],[20.96,2701],[21.08,2694],[21.2,2690],[21.36,2682],[21.52,2670],[21.66,2664],[21.8,2660],[21.93,2650],[22.07,2645],[22.2,2638],[22.35,2625],[22.48,2614],[22.62,2608],[22.76,2600],[22.9,2590],[23.04,2575],[23.18,2570],[23.32,2562],[23.45,2550],[23.6,2545],[23.73,2533],[23.87,2520],[24.0,2520],[24.14,2512],[24.28,2501],[24.42,2498],[24.55,2495],[24.7,2482],[24.84,2489],[24.97,2480],[25.1,2475],[25.25,2468],[25.39,2464],[25.52,2458],[25.65,2455],[25.8,2448],[25.95,2445],[26.08,2438],[26.2,2446],[26.35,2452],[26.5,2445],[26.65,2436],[26.8,2442],[26.92,2448],[27.05,2439],[27.18,2430],[27.3,2430],[27.45,2425],[27.61,2420],[28.0,2410],[28.5,2405],[29.0,2400],[29.5,2398],[30.0,2400],[30.5,2405],[31.0,2410],[31.5,2420],[32.0,2430],[32.5,2440],[33.0,2452],[33.5,2465],[34.0,2478],[34.3,2482],[34.5,2489],[34.62,2482],[34.75,2495],[34.88,2505],[35.0,2514]];

const s180_150_5 = [[2.9,1989],[3.03,1995],[3.15,2000],[3.28,1998],[3.4,2005],[3.53,2012],[3.65,2012],[3.78,2016],[3.9,2020],[4.03,2018],[4.15,2025],[4.28,2032],[4.4,2030],[4.53,2030],[4.65,2038],[4.78,2046],[4.9,2045],[5.03,2050],[5.15,2040],[5.28,2046],[5.4,2055],[5.53,2052],[5.65,2060],[5.78,2066],[5.9,2058],[6.01,2064],[6.12,2070],[6.24,2068],[6.35,2075],[6.45,2082],[6.55,2089],[6.62,2105],[6.7,2130],[6.78,2160],[6.85,2176],[6.93,2140],[7.0,2100],[7.1,2085],[7.2,2076],[7.33,2080],[7.45,2085],[7.62,2078],[7.78,2083],[7.92,2090],[8.05,2080],[8.2,2084],[8.34,2076],[8.47,2082],[8.6,2085],[8.75,2094],[8.89,2089],[9.02,2094],[9.15,2100],[9.3,2112],[9.45,2114],[9.58,2102],[9.7,2107],[9.85,2115],[10.0,2107],[10.13,2110],[10.25,2115],[10.4,2124],[10.55,2120],[10.68,2122],[10.8,2128],[10.95,2140],[11.11,2139],[11.25,2145],[11.4,2155],[11.53,2165],[11.66,2176],[11.75,2210],[11.85,2260],[11.95,2228],[12.05,2200],[12.15,2192],[12.25,2189],[12.38,2205],[12.5,2220],[12.6,2245],[12.7,2270],[12.8,2300],[12.9,2320],[13.0,2302],[13.1,2290],[13.25,2280],[13.4,2276],[13.5,2282],[13.6,2285],[13.73,2278],[13.87,2289],[14.01,2300],[14.15,2310],[14.29,2322],[14.43,2333],[14.56,2340],[14.7,2350],[14.84,2362],[14.98,2370],[15.12,2388],[15.25,2400],[15.4,2418],[15.54,2433],[15.67,2455],[15.8,2470],[15.95,2490],[16.09,2508],[16.22,2512],[16.35,2525],[16.5,2535],[16.64,2545],[16.77,2552],[16.9,2560],[17.05,2572],[17.2,2582],[17.33,2600],[17.45,2605],[17.6,2620],[17.75,2633],[17.85,2655],[17.95,2700],[18.02,2750],[18.08,2808],[18.14,2880],[18.2,2926],[18.27,2860],[18.35,2760],[18.42,2740],[18.5,2745],[18.6,2728],[18.7,2714],[18.78,2722],[18.86,2714],[18.98,2720],[19.1,2725],[19.25,2738],[19.4,2733],[19.5,2726],[19.6,2722],[19.73,2730],[19.85,2720],[19.98,2724],[20.1,2730],[20.2,2735],[20.3,2726],[20.47,2740],[20.63,2770],[20.72,2755],[20.8,2745],[20.88,2750],[20.96,2739],[21.08,2744],[21.2,2730],[21.36,2728],[21.52,2720],[21.66,2712],[21.8,2700],[21.93,2695],[22.07,2683],[22.2,2675],[22.35,2660],[22.48,2652],[22.62,2639],[22.76,2635],[22.9,2625],[23.04,2615],[23.18,2608],[23.32,2600],[23.45,2590],[23.6,2582],[23.73,2570],[23.87,2558],[24.0,2545],[24.14,2535],[24.28,2520],[24.42,2518],[24.55,2510],[24.7,2500],[24.84,2501],[24.97,2500],[25.1,2495],[25.25,2488],[25.39,2483],[25.52,2488],[25.65,2480],[25.8,2472],[25.95,2476],[26.08,2470],[26.2,2468],[26.35,2464],[26.5,2458],[26.65,2460],[26.8,2452],[26.92,2446],[27.05,2445],[27.18,2448],[27.3,2440],[27.45,2436],[27.61,2433],[28.0,2425],[28.5,2420],[29.0,2415],[29.5,2412],[30.0,2415],[30.5,2420],[31.0,2425],[31.5,2435],[32.0,2445],[32.5,2455],[33.0,2465],[33.5,2478],[34.0,2490],[34.3,2494],[34.5,2501],[34.62,2496],[34.75,2510],[34.88,2518],[35.0,2526]];

const seriesData = [
  s110_250_5, s110_150_5, s110_200_10, s110_150_10, s145_250_0, s145_150_0,
  s145_250_10, s145_200_10, s145_150_10, s180_250_5, s180_150_5,
];

const X_MIN = 2.9;
const X_MAX = 35;
const X_LABEL_MIN = 3;
const X_LABEL_MAX = 34;
const Y_LABEL_MAX = 1200;
const Y_AXIS_TOP = 1250;

// layout
const W = 1049;
const H = 888;
const PLOT_LEFT = 82;
const ZERO_PX = 832; // pixel row of value 0
const UNITS_PER_PX = 3.75;
const FONT = "'Liberation Sans', Arial, Helvetica, sans-serif";
// legend swatch: thin bar on the left of a 12x11 box
const LEGEND_ICON = "path://M0,0h4v11h-4z M12,10.99h0.01v0.01h-0.01z";

export default function App() {
  const ref = useRef<HTMLDivElement>(null);
  useEffect(() => {
    if (!ref.current) return;
    const chart = echarts.init(ref.current, null, { renderer: "svg" });
    const bottom = H - ZERO_PX;
    const dataMax = ZERO_PX * UNITS_PER_PX;
    const gridAxisTop = ZERO_PX - Y_AXIS_TOP / UNITS_PER_PX;
    const gridLabelTop = ZERO_PX - Y_LABEL_MAX / UNITS_PER_PX;
    const tickColor = "#333333";
    const xLabelFmt = (v: number) => {
      const r = Math.round(v);
      return Math.abs(v - r) < 1e-6 && r >= X_LABEL_MIN && r <= X_LABEL_MAX ? String(r) : "";
    };
    const yLabelFmt = (v: number) => (Math.round(v) % 200 === 0 ? String(Math.round(v)) : "");
    const hiddenX = (gridIndex: number) => ({
      type: "value", gridIndex, min: 0, max: 1, show: false,
    });
    const option: any = {
      animation: false,
      backgroundColor: "#ffffff",
      grid: [
        { left: PLOT_LEFT, right: 0, top: 0, bottom, outerBoundsMode: "none", containLabel: false },
        { left: PLOT_LEFT, right: 0, top: gridAxisTop, bottom, outerBoundsMode: "none", containLabel: false },
        { left: PLOT_LEFT, right: 0, top: gridLabelTop, bottom, outerBoundsMode: "none", containLabel: false },
      ],
      legend: {
        orient: "vertical",
        left: 830,
        top: 5,
        data: seriesNames,
        icon: LEGEND_ICON,
        itemWidth: 12,
        itemHeight: 11,
        itemGap: 4.2,
        padding: [6, 10, 5, 8],
        backgroundColor: "#f1f3f6",
        borderColor: "#a9b6cc",
        borderWidth: 1,
        selectedMode: false,
        textStyle: { fontFamily: FONT, fontSize: 13.2, color: "#2a2a2a" },
      },
      xAxis: [
        {
          type: "value", gridIndex: 0, position: "bottom", min: X_MIN, max: X_MAX,
          minInterval: 1, maxInterval: 1, offset: 3,
          name: "2Theta (Coupled TwoTheta/Theta) WL=1,54060",
          nameLocation: "middle", nameGap: 31,
          nameTextStyle: { fontFamily: FONT, fontSize: 15, color: "#222222" },
          axisLine: { show: true, onZero: false, lineStyle: { color: tickColor, width: 1 } },
          axisTick: { show: true, inside: false, length: 7, lineStyle: { color: tickColor } },
          minorTick: { show: false },
          splitLine: { show: false },
          axisLabel: { show: true, margin: 8, fontFamily: FONT, fontSize: 13, color: "#222222", formatter: xLabelFmt, showMinLabel: true, showMaxLabel: true },
        },
        {
          type: "value", gridIndex: 0, position: "bottom", min: X_MIN, max: X_MAX,
          minInterval: 0.1, maxInterval: 0.1, offset: 3,
          axisLine: { show: false, onZero: false },
          axisTick: { show: true, length: 3, lineStyle: { color: tickColor } },
          splitLine: { show: false },
          axisLabel: { show: false },
        },
        {
          type: "value", gridIndex: 0, position: "bottom", min: X_MIN, max: X_MAX,
          minInterval: 0.5, maxInterval: 0.5, offset: 3,
          axisLine: { show: false, onZero: false },
          axisTick: { show: true, length: 5, lineStyle: { color: tickColor } },
          splitLine: { show: false },
          axisLabel: { show: false },
        },
        hiddenX(1),
        hiddenX(2),
      ],
      yAxis: [
        { type: "value", gridIndex: 0, position: "left", min: 0, max: dataMax, show: false },
        {
          type: "value", gridIndex: 1, position: "left", min: 0, max: Y_AXIS_TOP, interval: 20,
          axisLine: { show: true, onZero: false, lineStyle: { color: tickColor, width: 1 } },
          axisTick: { show: true, length: 3, lineStyle: { color: tickColor } },
          splitLine: { show: false },
          axisLabel: { show: false },
        },
        {
          type: "value", gridIndex: 2, position: "left", min: 0, max: Y_LABEL_MAX, interval: 100,
          axisLine: { show: false, onZero: false },
          axisTick: { show: true, length: 5, lineStyle: { color: tickColor } },
          splitLine: { show: false },
          axisLabel: { show: false },
        },
        {
          type: "value", gridIndex: 2, position: "left", min: 0, max: Y_LABEL_MAX, interval: 200,
          name: "Counts", nameLocation: "middle", nameGap: 58, nameRotate: 90,
          nameTextStyle: { fontFamily: FONT, fontSize: 15, color: "#222222" },
          axisLine: { show: false, onZero: false },
          axisTick: { show: true, length: 7, lineStyle: { color: tickColor } },
          splitLine: { show: false },
          axisLabel: { show: true, rotate: 90, margin: 10, fontFamily: FONT, fontSize: 13, color: "#222222", formatter: yLabelFmt },
        },
      ],
      series: seriesNames.map((name, i) => ({
        name,
        type: "line",
        xAxisIndex: 0,
        yAxisIndex: 0,
        data: seriesData[i],
        showSymbol: false,
        symbol: "none",
        color: seriesColors[i],
        lineStyle: { color: seriesColors[i], width: 1 },
        emphasis: { disabled: true },
        z: 2,
      })),
    };
    chart.setOption(option);
    return () => chart.dispose();
  }, []);
  return <div ref={ref} style={{ position: "absolute", left: 0, top: 0, width: W, height: H, background: "#fff" }} />;
}
